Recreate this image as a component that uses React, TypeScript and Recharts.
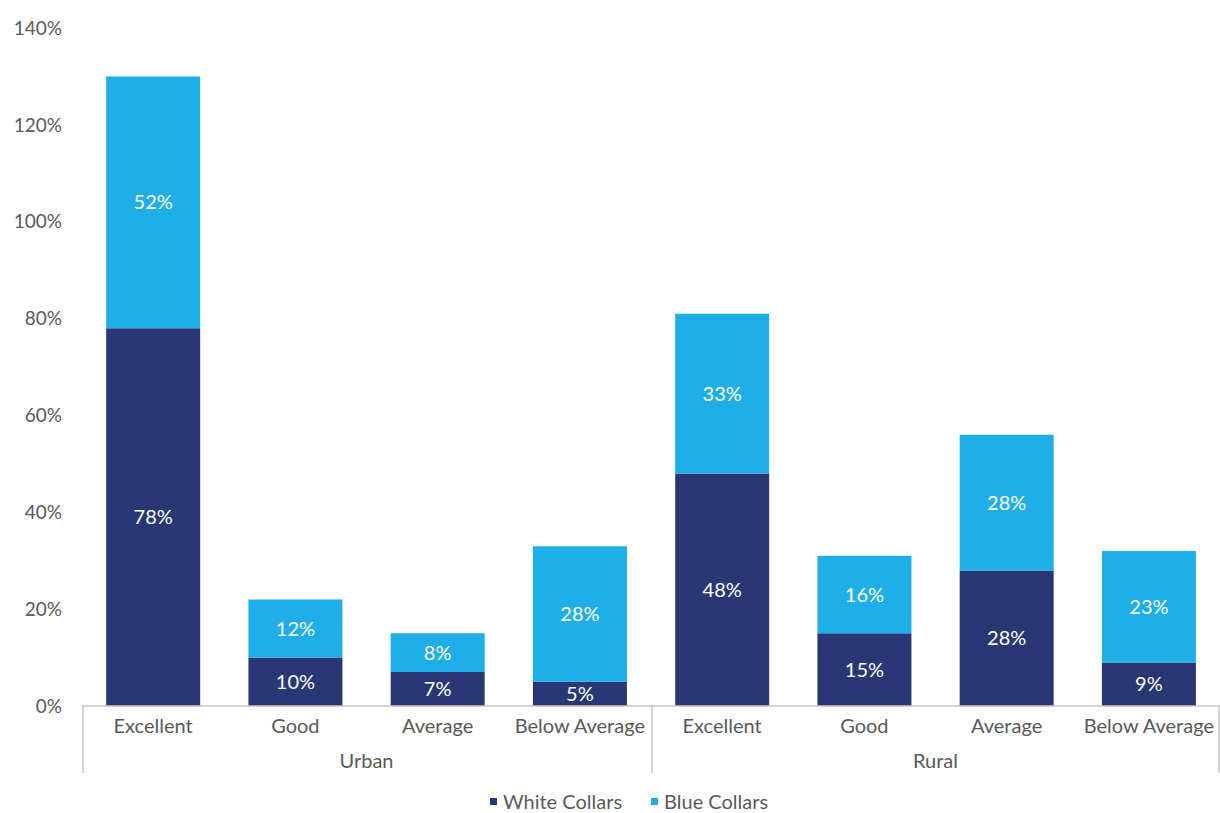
import React from 'react';
import { BarChart, Bar, XAxis, YAxis, Legend, LabelList } from 'recharts';

const categories = ['Excellent', 'Good', 'Average', 'Below Average', 'Excellent', 'Good', 'Average', 'Below Average'];
const groups = ['Urban', 'Urban', 'Urban', 'Urban', 'Rural', 'Rural', 'Rural', 'Rural'];
const whiteCollars = [78, 10, 7, 5, 48, 15, 28, 9];
const blueCollars = [52, 12, 8, 28, 33, 16, 28, 23];
const yTicks = [0, 20, 40, 60, 80, 100, 120, 140];
const seriesNames = ['White Collars', 'Blue Collars'];

const NAVY = '#293874';
const LIGHT = '#20aee8';
const TEXT = '#595959';
const LINE = '#c6c6c6';
const FONT = 'Lato, "Open Sans", sans-serif';

const data = categories.map((c, i) => ({
  category: c,
  group: groups[i],
  white: whiteCollars[i],
  blue: blueCollars[i],
}));

const CategoryTick = (props: any) => {
  const { x, y, payload, index } = props;
  const half = payload && typeof payload.offset === 'number' && payload.offset > 0 ? payload.offset : (1220 - 82) / 16;
  const g = groups[index];
  const isFirstOfGroup = index === 0 || groups[index - 1] !== g;
  const isLast = index === categories.length - 1;
  const groupStart = groups.indexOf(g);
  const groupEnd = groups.lastIndexOf(g);
  const isMid = index === Math.floor((groupStart + groupEnd) / 2);
  const midOdd = (groupEnd - groupStart + 1) % 2 === 0;
  return (
    <g>
      <text x={x} y={y + 27} textAnchor="middle" fill={TEXT} fontSize={20} fontFamily={FONT}>
        {payload.value}
      </text>
      {isFirstOfGroup && (
        <line x1={x - half + 1} x2={x - half + 1} y1={y - 1} y2={y + 67} stroke={LINE} strokeWidth={1.5} />
      )}
      {isLast && (
        <line x1={x + half - 1} x2={x + half - 1} y1={y - 1} y2={y + 67} stroke={LINE} strokeWidth={1.5} />
      )}
      {isMid && (
        <text x={midOdd ? x + half : x} y={y + 62} textAnchor="middle" fill={TEXT} fontSize={20} fontFamily={FONT}>
          {g}
        </text>
      )}
    </g>
  );
};

const LegendContent = () => (
  <div
    style={{
      display: 'flex',
      justifyContent: 'center',
      alignItems: 'center',
      paddingLeft: 38,
      height: 24,
      fontFamily: FONT,
      fontSize: 20,
      color: TEXT,
      lineHeight: '24px',
    }}
  >
    {[NAVY, LIGHT].map((col, i) => (
      <div key={i} style={{ display: 'flex', alignItems: 'center', marginRight: i === 0 ? 29 : 0 }}>
        <span style={{ display: 'inline-block', width: 7, height: 7, background: col, marginRight: 6 }} />
        <span>{seriesNames[i]}</span>
      </div>
    ))}
  </div>
);

export default function App() {
  return (
    <div style={{ position: 'absolute', left: 0, top: 0, width: 1220, height: 813, background: '#fff', fontFamily: FONT }}>
      <BarChart
        width={1220}
        height={813}
        data={data}
        margin={{ top: 28, right: 0, bottom: 0, left: 0 }}
        barCategoryGap="17%"
        style={{ fontFamily: FONT }}
      >
        <XAxis
          dataKey="category"
          height={83}
          interval={0}
          tickLine={false}
          tickSize={0}
          tickMargin={0}
          axisLine={{ stroke: LINE, strokeWidth: 1.5 }}
          tick={<CategoryTick />}
        />
        <YAxis
          width={82}
          domain={[0, 140]}
          ticks={yTicks}
          interval={0}
          axisLine={false}
          tickLine={false}
          tickSize={0}
          tickMargin={20}
          tickFormatter={(v: number) => `${v}%`}
          tick={{ fill: TEXT, fontSize: 19, fontFamily: FONT }}
        />
        <Legend
          verticalAlign="bottom"
          align="center"
          content={<LegendContent />}
          wrapperStyle={{ height: 24 }}
        />
        <Bar dataKey="white" name={seriesNames[0]} stackId="a" fill={NAVY} isAnimationActive={false}>
          <LabelList
            dataKey="white"
            position="center"
            formatter={(v: any) => `${v}%`}
            fill="#ffffff"
            fontSize={20}
            fontFamily={FONT}
          />
        </Bar>
        <Bar dataKey="blue" name={seriesNames[1]} stackId="a" fill={LIGHT} isAnimationActive={false}>
          <LabelList
            dataKey="blue"
            position="center"
            formatter={(v: any) => `${v}%`}
            fill="#ffffff"
            fontSize={20}
            fontFamily={FONT}
          />
        </Bar>
      </BarChart>
    </div>
  );
}
